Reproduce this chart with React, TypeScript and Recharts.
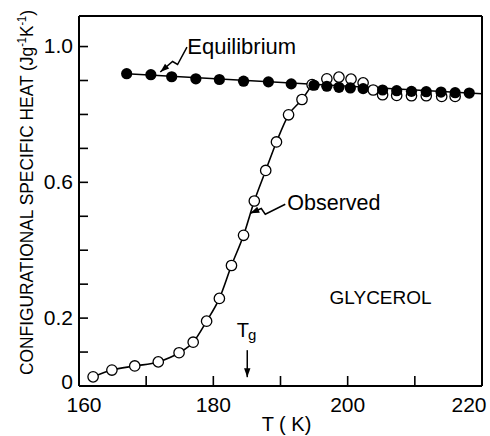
import React from 'react';
import { ComposedChart, Line, XAxis, YAxis, ReferenceLine, ReferenceDot } from 'recharts';

// Observed (open circles) along the rising curve
const observedT = [162.1, 164.9, 168.3, 171.8, 174.9, 177.0, 179.0, 180.9, 182.7, 184.5, 186.1, 187.8, 189.4, 191.2, 193.2, 194.7];
const observedCp = [0.027, 0.047, 0.059, 0.071, 0.098, 0.129, 0.191, 0.258, 0.355, 0.444, 0.545, 0.635, 0.719, 0.799, 0.844, 0.888];
// Observed (open circles) above Tg, no connecting line
const observedTailT = [196.9, 198.7, 200.5, 202.3, 203.8, 205.2, 207.3, 209.5, 211.7, 214.0, 216.0];
const observedTailCp = [0.905, 0.910, 0.904, 0.893, 0.872, 0.858, 0.856, 0.855, 0.855, 0.853, 0.853];
// Equilibrium (filled circles)
const equilibriumT = [167.1, 170.7, 173.8, 177.4, 180.9, 184.5, 188.2, 191.6, 195.0, 196.9, 198.7, 200.4, 202.3, 205.2, 207.3, 209.5, 211.7, 213.9, 216.0, 218.1];
const equilibriumCp = [0.920, 0.917, 0.911, 0.905, 0.903, 0.898, 0.896, 0.890, 0.886, 0.883, 0.880, 0.878, 0.876, 0.872, 0.870, 0.868, 0.867, 0.866, 0.864, 0.863];
// Equilibrium straight line
const equilibriumLineT = [167.1, 220];
const equilibriumLineCp = [0.920, 0.861];

const xTicks = [160, 170, 180, 190, 200, 210, 220];
const xTickLabels = ['160', '', '180', '', '200', '', '220'];
const yTicks = [0, 0.1, 0.2, 0.3, 0.4, 0.5, 0.6, 0.7, 0.8, 0.9, 1.0];
const yTickLabels = ['0', '', '0.2', '', '', '', '0.6', '', '', '', '1.0'];

const xDomain = [160, 220];
const yDomain = [0, 1.09];

const toRows = (xs: number[], ys: number[]) => xs.map((T, i) => ({ T, cp: ys[i] }));
const observedData = toRows(observedT, observedCp);
const observedTailData = toRows(observedTailT, observedTailCp);
const equilibriumData = toRows(equilibriumT, equilibriumCp);
const equilibriumLineData = toRows(equilibriumLineT, equilibriumLineCp);

const FONT = '"Liberation Sans", Arial, Helvetica, sans-serif';

const findIdx = (arr: number[], v: number) => arr.findIndex((a) => Math.abs(a - v) < 1e-6);

const YTick = (props: any) => {
  const { x, y, payload } = props;
  const i = findIdx(yTicks, payload.value);
  const label = i >= 0 ? yTickLabels[i] : '';
  return (
    <g>
      <line x1={x} x2={x + 9} y1={y} y2={y} stroke="#000" strokeWidth={1.6} />
      {label && (
        <text x={x - 6} y={y + (payload.value === 0 ? 3 : 6.5)} textAnchor="end" fontSize={21} fontFamily={FONT} fill="#000">
          {label}
        </text>
      )}
    </g>
  );
};

const XTick = (props: any) => {
  const { x, y, payload } = props;
  const i = findIdx(xTicks, payload.value);
  const label = i >= 0 ? xTickLabels[i] : '';
  const dx = i === 0 ? 5 : i === xTicks.length - 1 ? -13 : 0;
  return (
    <g>
      <line x1={x} x2={x} y1={y} y2={y - 10} stroke="#000" strokeWidth={1.6} />
      {label && (
        <text x={x + dx} y={y + 26} textAnchor="middle" fontSize={21} fontFamily={FONT} fill="#000">
          {label}
        </text>
      )}
    </g>
  );
};

const Arrow = ({ cx, cy, pts }: { cx: number; cy: number; pts: [number, number][] }) => {
  const abs = pts.map(([px, py]) => [cx + px, cy + py]);
  const n = abs.length;
  const [tx, ty] = abs[n - 1];
  const [sx, sy] = abs[n - 2];
  const dx = tx - sx;
  const dy = ty - sy;
  const len = Math.sqrt(dx * dx + dy * dy) || 1;
  const ux = dx / len;
  const uy = dy / len;
  const hl = 9;
  const hw = 3.2;
  const bx = tx - ux * hl;
  const by = ty - uy * hl;
  const d = abs.map(([px, py], k) => `${k === 0 ? 'M' : 'L'}${px},${py}`).join(' ');
  return (
    <g>
      <path d={d} fill="none" stroke="#000" strokeWidth={1.5} />
      <path d={`M${tx},${ty} L${bx - uy * hw},${by + ux * hw} L${bx + uy * hw},${by - ux * hw} Z`} fill="#000" />
    </g>
  );
};

const EquilibriumNote = (p: any) => (
  <g>
    <Arrow cx={p.cx} cy={p.cy} pts={[[26.7, -24.8], [17.3, -7.5], [12.3, -10.5], [0, 0]]} />
    <text x={p.cx + 27} y={p.cy - 18.5} fontSize={22} fontFamily={FONT} fill="#000">Equilibrium</text>
  </g>
);

const ObservedNote = (p: any) => (
  <g>
    <Arrow cx={p.cx} cy={p.cy} pts={[[35, -9], [15, 1], [11, -4.7], [0, 0]]} />
    <text x={p.cx + 37} y={p.cy - 3} fontSize={21.5} fontFamily={FONT} fill="#000">Observed</text>
  </g>
);

const TgNote = (p: any) => (
  <g>
    <Arrow cx={p.cx} cy={p.cy} pts={[[0, -27], [0, 0]]} />
    <text x={p.cx - 10.5} y={p.cy - 40} fontSize={20} fontFamily={FONT} fill="#000">
      T<tspan dx={-1} dy={2.5} fontSize={15}>g</tspan>
    </text>
  </g>
);

const GlycerolNote = (p: any) => (
  <text x={p.cx} y={p.cy} fontSize={19} fontFamily={FONT} fill="#000">GLYCEROL</text>
);

export default function App() {
  return (
    <div style={{ position: 'absolute', left: 0, top: 0, width: 490, height: 436, overflow: 'hidden' }}>
      <div style={{ position: 'absolute', left: 0, top: 0 }}>
        <ComposedChart width={490} height={436} margin={{ top: 16, right: 7, bottom: 49, left: 78 }}>
          <XAxis
            type="number"
            dataKey="T"
            domain={xDomain}
            ticks={xTicks}
            interval={0}
            allowDataOverflow
            height={1}
            tickSize={0}
            tickMargin={0}
            tickLine={false}
            axisLine={{ stroke: '#000', strokeWidth: 2 }}
            tick={<XTick />}
          />
          <YAxis
            type="number"
            domain={yDomain}
            ticks={yTicks}
            interval={0}
            allowDataOverflow
            width={1}
            tickSize={0}
            tickMargin={0}
            tickLine={false}
            axisLine={{ stroke: '#000', strokeWidth: 2 }}
            tick={<YTick />}
          />
          <YAxis
            yAxisId="frame"
            orientation="right"
            type="number"
            domain={yDomain}
            width={1}
            tick={false}
            tickLine={false}
            axisLine={{ stroke: '#000', strokeWidth: 2 }}
          />
          <ReferenceLine y={1.09} stroke="#000" strokeWidth={2} ifOverflow="visible" />
          <Line
            data={observedData}
            dataKey="cp"
            type="monotone"
            stroke="#000"
            strokeWidth={1.6}
            dot={{ r: 5.2, fill: '#fff', stroke: '#000', strokeWidth: 1.3 }}
            isAnimationActive={false}
          />
          <Line
            data={observedTailData}
            dataKey="cp"
            stroke="none"
            dot={{ r: 5.2, fill: '#fff', stroke: '#000', strokeWidth: 1.3 }}
            isAnimationActive={false}
          />
          <Line
            data={equilibriumLineData}
            dataKey="cp"
            type="linear"
            stroke="#000"
            strokeWidth={1.6}
            dot={false}
            isAnimationActive={false}
          />
          <Line
            data={equilibriumData}
            dataKey="cp"
            stroke="none"
            dot={{ r: 5.6, fill: '#000', stroke: '#000', strokeWidth: 0 }}
            isAnimationActive={false}
          />
          <ReferenceDot x={172.1} y={0.925} shape={EquilibriumNote} ifOverflow="visible" />
          <ReferenceDot x={185.5} y={0.509} shape={ObservedNote} ifOverflow="visible" />
          <ReferenceDot x={185.05} y={0.026} shape={TgNote} ifOverflow="visible" />
          <ReferenceDot x={197.3} y={0.243} shape={GlycerolNote} ifOverflow="visible" />
        </ComposedChart>
      </div>
      <svg width={490} height={436} style={{ position: 'absolute', left: 0, top: 0, pointerEvents: 'none' }}>
        <text
          transform="translate(33,192.5) rotate(-90)"
          textAnchor="middle"
          fontSize={19}
          fontFamily={FONT}
          fill="#000"
          textLength={365}
          lengthAdjust="spacingAndGlyphs"
        >
          CONFIGURATIONAL SPECIFIC HEAT (Jg<tspan dy={-7} fontSize={12}>-1</tspan>
          <tspan dy={7}>K</tspan>
          <tspan dy={-7} fontSize={12}>-1</tspan>
          <tspan dy={7}>)</tspan>
        </text>
        <text x={286.5} y={431} textAnchor="middle" fontSize={20} fontFamily={FONT} fill="#000">
          T ( K)
        </text>
      </svg>
    </div>
  );
}
